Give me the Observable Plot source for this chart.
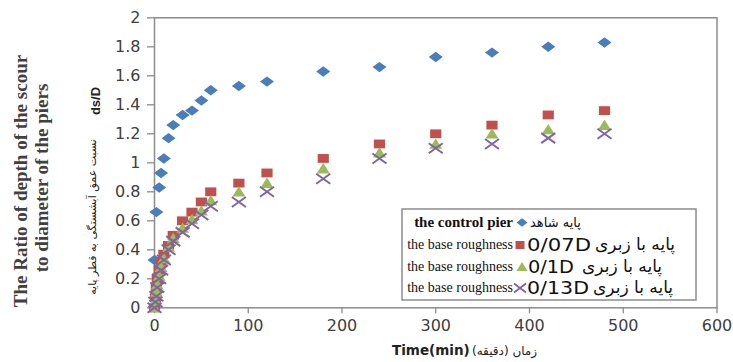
<!DOCTYPE html>
<html><head><meta charset="utf-8">
<script src="https://cdn.jsdelivr.net/npm/d3@7"></script>
<script src="https://cdn.jsdelivr.net/npm/@observablehq/plot@0.6"></script>
<style>
html,body{margin:0;padding:0;background:#fff;}
#chart{width:733px;height:362px;position:relative;}
</style></head><body><div id="chart"></div>
<script>
// ---- data ----
const controlTime = [0, 2, 5, 7, 10, 15, 20, 30, 40, 50, 60, 90, 120, 180, 240, 300, 360, 420, 480];
const controlDsD  = [0.33, 0.66, 0.83, 0.93, 1.03, 1.17, 1.26, 1.33, 1.36, 1.43, 1.50, 1.53, 1.56, 1.63, 1.66, 1.73, 1.76, 1.80, 1.83];
const roughTime   = [0, 1, 2, 3, 5, 7, 10, 15, 20, 30, 40, 50, 60, 90, 120, 180, 240, 300, 360, 420, 480];
const rough007D   = [0, 0.07, 0.14, 0.20, 0.26, 0.32, 0.37, 0.43, 0.50, 0.60, 0.66, 0.73, 0.80, 0.86, 0.93, 1.03, 1.13, 1.20, 1.26, 1.33, 1.36];
const rough01D    = [0, 0.05, 0.11, 0.16, 0.22, 0.28, 0.34, 0.42, 0.48, 0.55, 0.61, 0.67, 0.74, 0.80, 0.86, 0.96, 1.07, 1.13, 1.20, 1.23, 1.26];
const rough013D   = [0, 0.04, 0.08, 0.14, 0.20, 0.26, 0.33, 0.40, 0.46, 0.52, 0.58, 0.64, 0.70, 0.73, 0.80, 0.89, 1.03, 1.10, 1.13, 1.17, 1.20];
const xTicks = [0, 100, 200, 300, 400, 500, 600];
const yTicks = [0, 0.2, 0.4, 0.6, 0.8, 1, 1.2, 1.4, 1.6, 1.8, 2];
const legendEn = ["the control pier", "the base roughness", "the base roughness", "the base roughness"];
const legendCode = ["", "0/07D", "0/1D", "0/13D"];
const legendFa = ["پایه شاهد", "پایه با زبری", "پایه با زبری", "پایه با زبری"];
const yTitle1 = "The Ratio of depth of the scour";
const yTitle2 = "to diameter of the piers";
const yTitleFa = "نسبت عمق آبشستگی به قطر پایه";
const yTitleSym = "ds/D";
const xTitle = "Time(min)";
const xTitleFa = "زمان (دقیقه)";

// ---- marker shapes ----
const diamond = {draw(c){c.moveTo(-7,0);c.lineTo(0,-5.2);c.lineTo(7,0);c.lineTo(0,5.2);c.closePath();}};
const square  = {draw(c){c.rect(-5.6,-4.4,11.2,8.8);}};
const triangle= {draw(c){c.moveTo(0,-5.5);c.lineTo(6.5,4.8);c.lineTo(-6.5,4.8);c.closePath();}};
const cross   = {draw(c){c.moveTo(-7,-5);c.lineTo(7,5);c.moveTo(-7,5);c.lineTo(7,-5);}};
const smallDiamond = {draw(c){c.moveTo(-5.5,0);c.lineTo(0,-4.2);c.lineTo(5.5,0);c.lineTo(0,4.2);c.closePath();}};
const smallSquare = {draw(c){c.rect(-4.5,-4,9,8);}};
const smallTri = {draw(c){c.moveTo(0,-5);c.lineTo(5.5,4);c.lineTo(-5.5,4);c.closePath();}};
const smallCross = {draw(c){c.moveTo(-6,-4.5);c.lineTo(6,4.5);c.moveTo(-6,4.5);c.lineTo(6,-4.5);}};

const colors = ["#4A7EBB", "#C0504D", "#9BBB59", "#8064A2"];
const toRows = (t, v) => t.map((d, i) => ({t: d, v: v[i]}));

const grey = "#8c8c8c";
const W = 733, H = 362, mL = 154, mR = 16.5, mT = 17.3, mB = 54.7;

const plot = Plot.plot({
  width: W, height: H,
  marginLeft: mL, marginRight: mR, marginTop: mT, marginBottom: mB,
  style: {fontFamily: "DejaVu Sans", fontSize: "16px", color: "#404040", background: "#fff", overflow: "visible"},
  x: {domain: [0, 600]},
  y: {domain: [0, 2]},
  marks: [
    Plot.axisX({ticks: xTicks, tickSize: 6, tickPadding: 6, stroke: grey, strokeWidth: 1.3, tickFormat: d => String(d), label: null, fontSize: 16}),
    Plot.axisY({ticks: yTicks, tickSize: 7, tickPadding: 7, stroke: grey, strokeWidth: 1.3, tickFormat: d => String(+d.toFixed(1)), label: null, fontSize: 16}),
    Plot.frame({stroke: grey, strokeWidth: 1.5}),
    Plot.dot(toRows(controlTime, controlDsD), {x: "t", y: "v", symbol: diamond, r: 5, fill: colors[0], stroke: "none"}),
    Plot.dot(toRows(roughTime, rough007D), {x: "t", y: "v", symbol: square, r: 5, fill: colors[1], stroke: "none"}),
    Plot.dot(toRows(roughTime, rough01D), {x: "t", y: "v", symbol: triangle, r: 5, fill: colors[2], stroke: "none"}),
    Plot.dot(toRows(roughTime, rough013D), {x: "t", y: "v", symbol: cross, r: 5, fill: "none", stroke: colors[3], strokeWidth: 2})
  ]
});
document.getElementById("chart").appendChild(plot);

const svg = d3.select(plot);
// y titles
const yt = svg.append("g").attr("fill", "#404040").attr("text-anchor", "middle");
yt.append("text").attr("transform", "translate(27,181) rotate(-90)")
  .attr("font-family", "Liberation Serif").attr("font-weight", "bold").attr("font-size", 19).text(yTitle1);
yt.append("text").attr("transform", "translate(48,178) rotate(-90)")
  .attr("font-family", "Liberation Serif").attr("font-weight", "bold").attr("font-size", 19).text(yTitle2);
yt.append("text").attr("transform", "translate(100,101) rotate(-90)")
  .attr("font-family", "Liberation Sans").attr("font-weight", "bold").attr("font-size", 13).attr("fill", "#222").text(yTitleSym);
yt.append("text").attr("transform", "translate(96,217) rotate(-90)")
  .attr("font-family", "DejaVu Sans").attr("font-size", 11).attr("fill", "#222").text(yTitleFa);
// x title
const xt = svg.append("g").attr("text-anchor", "start").attr("fill", "#222");
xt.append("text").attr("x", 392).attr("y", 355).attr("font-family", "DejaVu Sans").attr("font-weight", "bold")
  .attr("font-size", 13.5).text(xTitle);
xt.append("text").attr("x", 472).attr("y", 355).attr("font-family", "DejaVu Sans")
  .attr("font-size", 12).text(xTitleFa);

// legend
const lg = svg.append("g").attr("text-anchor", "start").attr("fill", "#111");
lg.append("rect").attr("x", 402).attr("y", 209).attr("width", 294).attr("height", 91)
  .attr("fill", "#fff").attr("stroke", grey).attr("stroke-width", 1.5);
const rowY = [222.5, 245, 267, 288];
const syms = [smallDiamond, smallSquare, smallTri, smallCross];
const symX = [522, 520, 522, 520];
const codeX = [0, 527, 528, 527];
const codeW = [0, 64, 46, 62];
const faX = [530, 595, 582, 593];
const faSize = [13, 17, 17, 17];
legendEn.forEach((s, i) => {
  lg.append("text").attr("x", 513).attr("y", rowY[i]).attr("dy", "0.32em").attr("text-anchor", "end")
    .attr("font-family", "Liberation Serif").attr("font-size", i === 0 ? 15 : 14).attr("font-weight", i === 0 ? "bold" : "normal")
    .text(s);
  const p = lg.append("path").attr("transform", `translate(${symX[i]},${rowY[i]})`).attr("d", d3.symbol(syms[i])());
  if (i === 3) p.attr("fill", "none").attr("stroke", colors[i]).attr("stroke-width", 1.8);
  else p.attr("fill", colors[i]);
  if (legendCode[i]) lg.append("text").attr("x", codeX[i]).attr("y", rowY[i]).attr("dy", "0.36em")
    .attr("font-family", "DejaVu Sans").attr("font-size", 17)
    .attr("textLength", codeW[i]).attr("lengthAdjust", "spacingAndGlyphs").text(legendCode[i]);
  lg.append("text").attr("x", faX[i]).attr("y", rowY[i]).attr("dy", "0.32em")
    .attr("font-family", "DejaVu Sans").attr("font-size", faSize[i]).text(legendFa[i]);
});
</script></body></html>
